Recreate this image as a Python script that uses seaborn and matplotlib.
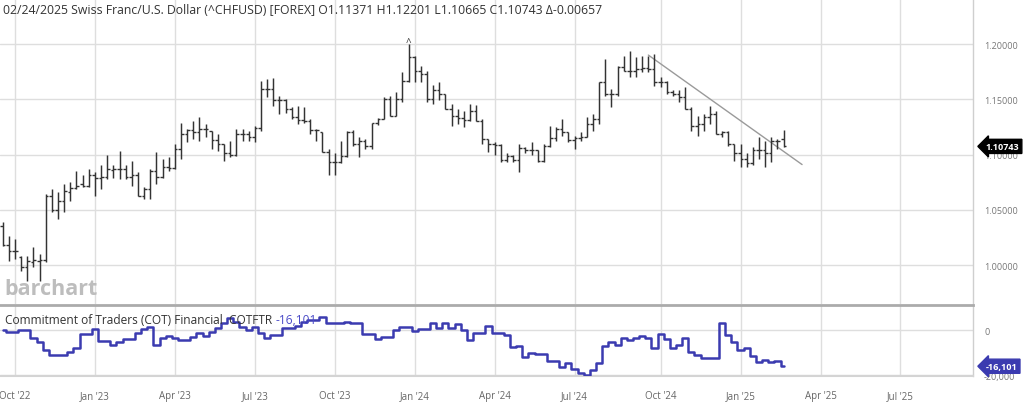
import numpy as np
import pandas as pd
import matplotlib
matplotlib.use("Agg")
import matplotlib.pyplot as plt
import matplotlib.transforms as mtransforms
from matplotlib.ticker import FuncFormatter
import seaborn as sns

# ---------------- data ----------------
start_date = "2022-09-19"   # first weekly bar (Monday)

opens = [1.035, 1.018, 1.013, 1.007, 0.998, 1.003, 1.004, 1.005, 1.063, 1.050,
         1.058, 1.066, 1.070, 1.073, 1.072, 1.082, 1.079, 1.080, 1.086, 1.087,
         1.087, 1.080, 1.082, 1.063, 1.069, 1.085, 1.080, 1.089, 1.088, 1.105,
         1.119, 1.122, 1.120, 1.123, 1.121, 1.113, 1.110, 1.101, 1.100, 1.119,
         1.119, 1.116, 1.124, 1.159, 1.159, 1.149, 1.149, 1.141, 1.134, 1.131,
         1.130, 1.122, 1.120, 1.102, 1.093, 1.093, 1.099, 1.120, 1.110, 1.112,
         1.108, 1.129, 1.132, 1.150, 1.135, 1.150, 1.167, 1.188, 1.176, 1.173,
         1.150, 1.158, 1.155, 1.141, 1.135, 1.133, 1.131, 1.139, 1.130, 1.114,
         1.110, 1.109, 1.095, 1.099, 1.095, 1.106, 1.104, 1.104, 1.094, 1.108,
         1.115, 1.123, 1.120, 1.113, 1.115, 1.116, 1.128, 1.132, 1.166, 1.155,
         1.155, 1.179, 1.176, 1.176, 1.177, 1.178, 1.177, 1.166, 1.166, 1.157,
         1.155, 1.152, 1.141, 1.126, 1.128, 1.134, 1.137, 1.119, 1.120, 1.110,
         1.101, 1.096, 1.092, 1.104, 1.104, 1.101, 1.112, 1.11371]
highs = [1.039, 1.026, 1.024, 1.008, 1.008, 1.016, 1.010, 1.064, 1.069, 1.066,
         1.073, 1.075, 1.085, 1.082, 1.087, 1.084, 1.091, 1.100, 1.091, 1.103,
         1.091, 1.094, 1.084, 1.071, 1.087, 1.102, 1.096, 1.098, 1.110, 1.129,
         1.123, 1.130, 1.134, 1.128, 1.121, 1.119, 1.110, 1.112, 1.123, 1.123,
         1.121, 1.126, 1.167, 1.168, 1.169, 1.153, 1.150, 1.143, 1.144, 1.143,
         1.132, 1.123, 1.120, 1.105, 1.101, 1.112, 1.121, 1.122, 1.116, 1.114,
         1.129, 1.133, 1.152, 1.153, 1.157, 1.175, 1.200, 1.189, 1.180, 1.176,
         1.163, 1.166, 1.155, 1.146, 1.141, 1.139, 1.146, 1.145, 1.132, 1.114,
         1.111, 1.110, 1.101, 1.100, 1.110, 1.107, 1.111, 1.104, 1.110, 1.126,
         1.125, 1.132, 1.120, 1.117, 1.120, 1.134, 1.137, 1.166, 1.186, 1.159,
         1.180, 1.189, 1.194, 1.188, 1.189, 1.189, 1.191, 1.170, 1.167, 1.158,
         1.158, 1.161, 1.143, 1.135, 1.137, 1.144, 1.139, 1.121, 1.121, 1.110,
         1.110, 1.101, 1.107, 1.116, 1.112, 1.116, 1.114, 1.12201]
lows = [1.017, 1.004, 1.006, 0.995, 0.986, 0.998, 0.986, 1.003, 1.048, 1.042,
        1.048, 1.058, 1.069, 1.071, 1.071, 1.063, 1.069, 1.078, 1.079, 1.078,
        1.078, 1.072, 1.063, 1.060, 1.060, 1.073, 1.079, 1.085, 1.087, 1.096,
        1.111, 1.114, 1.112, 1.116, 1.105, 1.103, 1.094, 1.098, 1.099, 1.112,
        1.112, 1.111, 1.121, 1.152, 1.144, 1.137, 1.138, 1.132, 1.128, 1.129,
        1.119, 1.112, 1.102, 1.082, 1.082, 1.092, 1.098, 1.108, 1.098, 1.105,
        1.105, 1.127, 1.132, 1.135, 1.135, 1.148, 1.166, 1.166, 1.166, 1.148,
        1.146, 1.149, 1.141, 1.126, 1.128, 1.125, 1.130, 1.130, 1.110, 1.102,
        1.100, 1.093, 1.093, 1.093, 1.084, 1.101, 1.100, 1.093, 1.093, 1.107,
        1.112, 1.117, 1.111, 1.105, 1.112, 1.116, 1.121, 1.128, 1.153, 1.143,
        1.153, 1.176, 1.170, 1.170, 1.175, 1.175, 1.162, 1.161, 1.155, 1.153,
        1.148, 1.141, 1.121, 1.117, 1.121, 1.128, 1.119, 1.116, 1.108, 1.094,
        1.089, 1.089, 1.091, 1.096, 1.089, 1.093, 1.105, 1.10665]
closes = [1.018, 1.013, 1.013, 0.998, 1.004, 1.005, 1.005, 1.063, 1.050, 1.058,
          1.067, 1.070, 1.072, 1.072, 1.082, 1.079, 1.080, 1.087, 1.087, 1.087,
          1.080, 1.082, 1.063, 1.069, 1.085, 1.080, 1.089, 1.088, 1.105, 1.119,
          1.122, 1.120, 1.123, 1.123, 1.113, 1.110, 1.101, 1.100, 1.119, 1.119,
          1.116, 1.124, 1.159, 1.159, 1.149, 1.149, 1.141, 1.134, 1.131, 1.130,
          1.122, 1.122, 1.102, 1.093, 1.093, 1.099, 1.120, 1.110, 1.112, 1.108,
          1.129, 1.132, 1.150, 1.135, 1.150, 1.167, 1.188, 1.176, 1.173, 1.150,
          1.158, 1.155, 1.141, 1.135, 1.133, 1.131, 1.139, 1.130, 1.114, 1.110,
          1.109, 1.095, 1.099, 1.095, 1.106, 1.104, 1.104, 1.094, 1.108, 1.115,
          1.123, 1.120, 1.113, 1.115, 1.116, 1.128, 1.132, 1.166, 1.155, 1.155,
          1.179, 1.176, 1.176, 1.177, 1.178, 1.177, 1.166, 1.166, 1.157, 1.155,
          1.152, 1.141, 1.126, 1.128, 1.134, 1.137, 1.119, 1.120, 1.110, 1.101,
          1.096, 1.092, 1.104, 1.104, 1.101, 1.112, 1.112, 1.10743]

cot_net = [0, -740, -740, 0, 0, -3400, -5200, -8900, -11100, -11100,
           -11100, -9600, -7850, -1900, -1900, 300, -4900, -4900, -6700, -5200,
           -4000, -4000, -1500, 400, 1500, -6700, -3700, -2500, -3700, -4400,
           -4400, -3000, -1500, -2500, -740, 740, 3000, 5200, 3700, 1500,
           0, 1500, -1500, -3400, -2200, -2200, 1000, 1000, 1800, 3700,
           4400, 4400, 5900, 3300, 3300, 3300, 3700, 3000, 3000, -1900,
           -1900, -4000, -3000, -3000, 0, 1500, 1500, -300, 400, 400,
           3000, 700, 3000, 700, 2500, 0, -4400, -1500, -1500, 1900,
           -1500, -1500, -2200, -7400, -7000, -11850, -10100, -10700, -10700, -13600,
           -13600, -16300, -14500, -17300, -19250, -20000, -17800, -14800, -7000, -5200,
           -6700, -3400, -4400, -3700, -2500, -3700, -7850, -1900, -4000, -7850,
           -6700, -3700, -9900, -11100, -12300, -12300, -12300, 3000, -2200, -5200,
           -8900, -7850, -11400, -14400, -13300, -14400, -13600, -16101]

trend_idx = [105, 130]
trend_price = [1.190, 1.091]

price_ticks = [1.00, 1.05, 1.10, 1.15, 1.20]
cot_ticks = [-20000, 0]
quarter_months = [1, 4, 7, 10]

title_text = ("02/24/2025 Swiss Franc/U.S. Dollar (^CHFUSD) [FOREX] "
              "O1.11371 H1.12201 L1.10665 C1.10743 \u0394-0.00657")
cot_label = "Commitment of Traders (COT) Financial  COTFTR "
cot_last_label = "-16,101"
price_last_label = "1.10743"
watermark = "barchart"

# ---------------- style ----------------
sns.set_theme(style="white")
plt.rcParams["font.family"] = ["Open Sans", "DejaVu Sans"]

n = len(closes)
idx = np.arange(n)
all_dates = pd.date_range(start_date, periods=170, freq="W-MON")
df = pd.DataFrame({"i": idx, "open": opens, "high": highs, "low": lows,
                   "close": closes, "cot": cot_net})

x_min, x_max = -0.44, 157.8
tick_pos = [k for k, d in enumerate(all_dates)
            if d.month in quarter_months and d.day <= 7 and k < x_max - 2]
tick_lab = [all_dates[k].strftime("%b '%y") for k in tick_pos]

W, H = 1024, 406
fig = plt.figure(figsize=(W / 100, H / 100), dpi=100)
plot_w = 973 / W
ax = fig.add_axes([0, 1 - 305 / H, plot_w, 305 / H])
ax2 = fig.add_axes([0, 1 - 377 / H, plot_w, 71 / H], sharex=ax)

grid_c = "#dedede"
bar_c = "#333333"
cot_c = "#3b3bb0"

# ---- price panel (OHLC bars) ----
ax.vlines(df["i"], df["low"], df["high"], color=bar_c, lw=1.05, zorder=3)
ax.hlines(df["open"], df["i"] - 0.42, df["i"], color=bar_c, lw=1.0, zorder=3)
ax.hlines(df["close"], df["i"], df["i"] + 0.42, color=bar_c, lw=1.0, zorder=3)
sns.lineplot(x=trend_idx, y=trend_price, ax=ax, color="#9a9a9a", lw=1.0,
             zorder=2, legend=False)
k_max = int(np.argmax(highs))
ax.annotate("^", (k_max, highs[k_max]), xytext=(0, -3), textcoords="offset points",
            ha="center", va="bottom", fontsize=7, color=bar_c)

ax.set_xlim(x_min, x_max)
ax.set_ylim(0.9649, 1.2407)
ax.set_yticks(price_ticks)
ax.yaxis.tick_right()
ax.yaxis.set_major_formatter(FuncFormatter(lambda v, p: f"{v:.5f}"))
ax.tick_params(axis="y", length=0, pad=8, labelsize=6.5, labelcolor="#777777")
ax.set_xticks(tick_pos)
ax.tick_params(axis="x", length=0, labelbottom=False)
ax.grid(True, color=grid_c, lw=1.0)
ax.set_axisbelow(True)
for s in ["top", "left", "bottom"]:
    ax.spines[s].set_visible(False)
ax.spines["right"].set_color("#cfcfcf")
ax.spines["right"].set_linewidth(1.0)
ax.set_xlabel("")
ax.set_ylabel("")

ax.text(0.004, 0.018, watermark, transform=ax.transAxes, fontsize=15.5,
        fontweight="bold", color="#bdbdbd", ha="left", va="bottom", zorder=1)

blend = mtransforms.blended_transform_factory(ax.transAxes, ax.transData)
ax.text(1.013, closes[-1], price_last_label, transform=blend, ha="left",
        va="center", color="white", fontsize=6.6, fontweight="bold",
        bbox=dict(boxstyle="larrow,pad=0.28", fc="black", ec="black"),
        clip_on=False, zorder=10)

fig.text(3 / W, 1 - 10 / H, title_text, ha="left", va="center",
         fontsize=8.8, color="#333333")

# ---- COT panel ----
sns.lineplot(data=df, x="i", y="cot", ax=ax2, color=cot_c, lw=1.8,
             drawstyle="steps-mid", legend=False, zorder=3)
ax2.set_ylim(-20444, 11111)
ax2.set_yticks(cot_ticks)
ax2.yaxis.tick_right()
ax2.yaxis.set_major_formatter(FuncFormatter(lambda v, p: f"{int(v):,}"))
ax2.tick_params(axis="y", length=0, pad=8, labelsize=6.5, labelcolor="#777777")
ax2.set_xticks(tick_pos)
ax2.set_xticklabels(tick_lab)
ax2.tick_params(axis="x", length=0, pad=10, labelsize=7, labelcolor="#666666")
ax2.grid(True, color=grid_c, lw=1.0)
ax2.set_axisbelow(True)
ax2.spines["left"].set_visible(False)
ax2.spines["top"].set_color("#ababab")
ax2.spines["top"].set_linewidth(2.0)
ax2.spines["bottom"].set_color("#d4d4d4")
ax2.spines["bottom"].set_linewidth(1.5)
ax2.spines["right"].set_color("#cfcfcf")
ax2.spines["right"].set_linewidth(1.0)
ax2.set_xlabel("")
ax2.set_ylabel("")

t = ax2.text(0.005, 0.80, cot_label, transform=ax2.transAxes, ha="left",
             va="center", fontsize=8.6, color="#333333", zorder=6)
fig.canvas.draw()
bb = t.get_window_extent()
inv = ax2.transAxes.inverted()
x_end = inv.transform((bb.x1, bb.y0))[0]
ax2.text(x_end, 0.80, cot_last_label, transform=ax2.transAxes, ha="left",
         va="center", fontsize=8.6, color="#4b4bc8", zorder=6)

blend2 = mtransforms.blended_transform_factory(ax2.transAxes, ax2.transData)
ax2.text(1.013, cot_net[-1], cot_last_label, transform=blend2, ha="left",
         va="center", color="white", fontsize=6.6, fontweight="bold",
         bbox=dict(boxstyle="larrow,pad=0.28", fc=cot_c, ec=cot_c),
         clip_on=False, zorder=10)

fig.savefig("out.png", dpi=100)
